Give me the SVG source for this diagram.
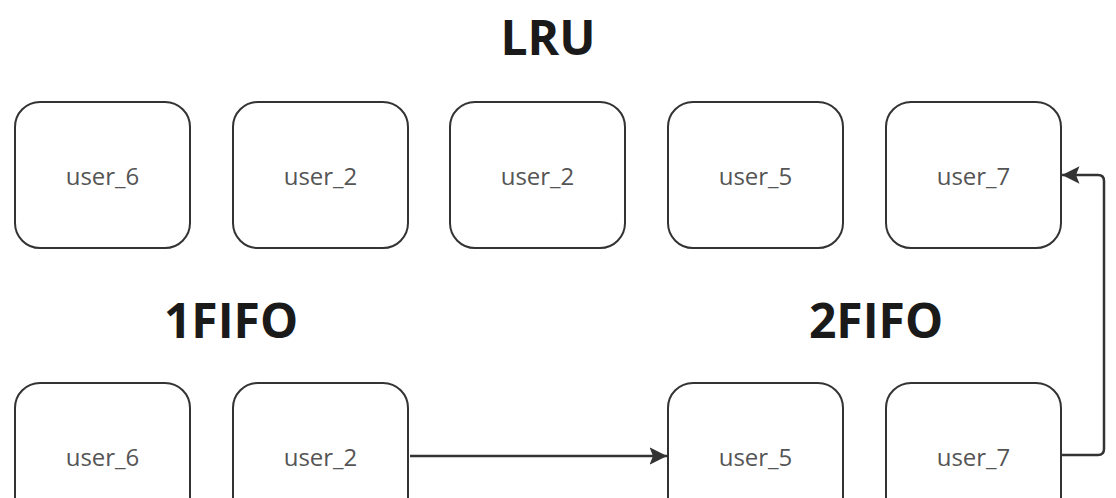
<svg xmlns="http://www.w3.org/2000/svg" width="1116" height="498" viewBox="0 0 1116 498">
<defs>
<style>
.box{fill:#fff;stroke:#333;stroke-width:2}
.lbl{font-family:"Open Sans","Noto Sans",sans-serif;font-size:24px;fill:#555;text-anchor:middle}
.title{font-family:"Open Sans","Noto Sans",sans-serif;font-size:48px;font-weight:700;fill:#1a1a1a;text-anchor:middle}
.conn{fill:none;stroke:#333;stroke-width:2.5}
</style>
<marker id="ah" viewBox="0 0 10 10" refX="10" refY="5" markerWidth="7" markerHeight="7" markerUnits="strokeWidth" orient="auto">
<path d="M0,0 L10,5 L0,10 L2,5 z" fill="#333"/>
</marker>
</defs>
<rect width="1116" height="498" fill="#fff"/>
<text class="title" x="548" y="55">LRU</text>
<text class="title" x="231" y="338">1FIFO</text>
<text class="title" x="876" y="338">2FIFO</text>
<g id="lru1"><rect class="box" x="15" y="102" width="175" height="146" rx="25"/><text class="lbl" x="102.5" y="185">user_6</text></g>
<g id="lru2"><rect class="box" x="233" y="102" width="175" height="146" rx="25"/><text class="lbl" x="320.5" y="185">user_2</text></g>
<g id="lru3"><rect class="box" x="450" y="102" width="175" height="146" rx="25"/><text class="lbl" x="537.5" y="185">user_2</text></g>
<g id="lru4"><rect class="box" x="668" y="102" width="175" height="146" rx="25"/><text class="lbl" x="755.5" y="185">user_5</text></g>
<g id="lru5"><rect class="box" x="886" y="102" width="175" height="146" rx="25"/><text class="lbl" x="973.5" y="185">user_7</text></g>
<g id="fifo1a"><rect class="box" x="15" y="383" width="175" height="146" rx="25"/><text class="lbl" x="102.5" y="466">user_6</text></g>
<g id="fifo1b"><rect class="box" x="233" y="383" width="175" height="146" rx="25"/><text class="lbl" x="320.5" y="466">user_2</text></g>
<g id="fifo2a"><rect class="box" x="668" y="383" width="175" height="146" rx="25"/><text class="lbl" x="755.5" y="466">user_5</text></g>
<g id="fifo2b"><rect class="box" x="886" y="383" width="175" height="146" rx="25"/><text class="lbl" x="973.5" y="466">user_7</text></g>
<g id="connectors">
<path class="conn" d="M410,456 L667,456" marker-end="url(#ah)"/>
<path class="conn" d="M1062,455 L1098,455 Q1104,455 1104,449 L1104,181 Q1104,175 1098,175 L1062,175" marker-end="url(#ah)"/>
</g>
</svg>
